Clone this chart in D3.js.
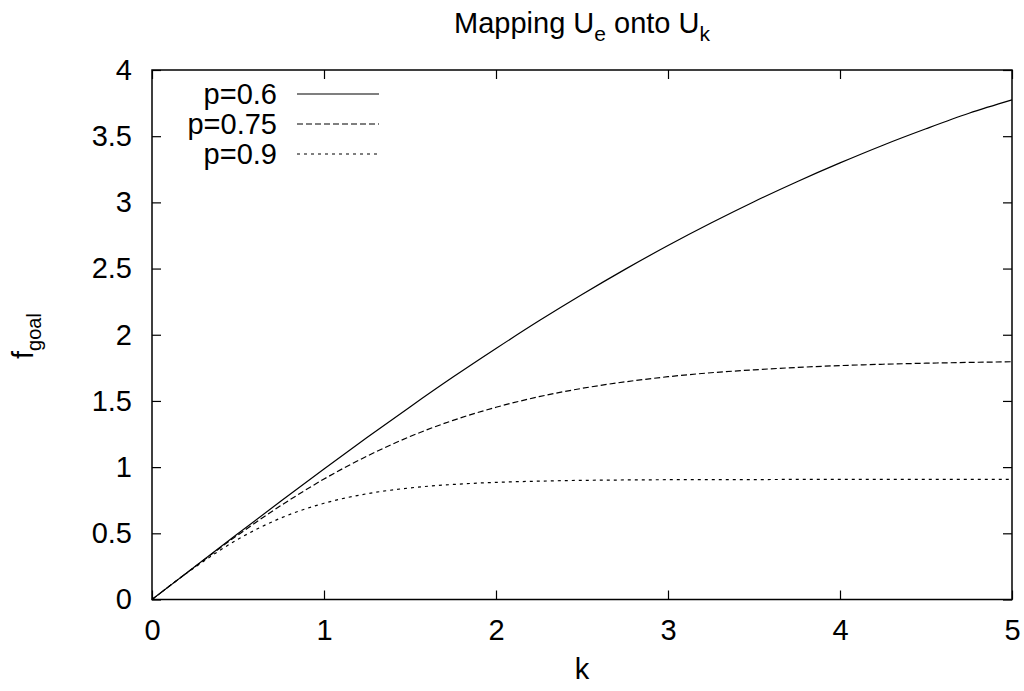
<!DOCTYPE html>
<html>
<head>
<meta charset="utf-8">
<script src="https://cdn.jsdelivr.net/npm/d3@7"></script>
<style>
  html, body { margin: 0; padding: 0; background: #fff; }
  svg { display: block; font-family: "Liberation Sans", Arial, Helvetica, sans-serif; }
</style>
</head>
<body>
<svg id="chart" width="1024" height="691"></svg>
<script>
// k values sampled along the x axis
const kValues = [0, 0.25, 0.5, 0.75, 1, 1.25, 1.5, 1.75, 2, 2.25, 2.5, 2.75, 3, 3.25, 3.5, 3.75, 4, 4.25, 4.5, 4.75, 5];

// f_goal for each p
const fP060 = [0, 0.250, 0.498, 0.744, 0.986, 1.224, 1.455, 1.680, 1.896, 2.105, 2.304, 2.494, 2.674, 2.844, 3.005, 3.156, 3.298, 3.432, 3.556, 3.673, 3.774];
const fP075 = [0, 0.248, 0.488, 0.710, 0.910, 1.083, 1.231, 1.353, 1.452, 1.532, 1.595, 1.644, 1.683, 1.713, 1.735, 1.753, 1.767, 1.777, 1.785, 1.791, 1.796];
const fP090 = [0, 0.244, 0.455, 0.616, 0.727, 0.799, 0.843, 0.869, 0.885, 0.894, 0.900, 0.903, 0.905, 0.906, 0.906, 0.907, 0.907, 0.907, 0.907, 0.907, 0.907];

const seriesNames = ["p=0.6", "p=0.75", "p=0.9"];
const xTicks = [0, 1, 2, 3, 4, 5];
const yTicks = [0, 0.5, 1, 1.5, 2, 2.5, 3, 3.5, 4];

const series = [
  { name: seriesNames[0], values: fP060, dash: null },
  { name: seriesNames[1], values: fP075, dash: "6,3" },
  { name: seriesNames[2], values: fP090, dash: "3,4" }
];

const svg = d3.select("#chart");
const plotLeft = 152, plotRight = 1012, plotTop = 70, plotBottom = 599.5;

const x = d3.scaleLinear().domain([0, 5]).range([plotLeft, plotRight]);
const y = d3.scaleLinear().domain([0, 4]).range([plotBottom, plotTop]);

const tickLen = 9;
const fontSize = 29;

// Axes with inward ticks on all four sides
const axisGroup = svg.append("g");
axisGroup.append("g")
  .attr("transform", `translate(0,${plotBottom})`)
  .call(d3.axisBottom(x).tickValues(xTicks).tickSize(-tickLen).tickPadding(20).tickFormat(d3.format("d")));
axisGroup.append("g")
  .attr("transform", `translate(0,${plotTop})`)
  .call(d3.axisTop(x).tickValues(xTicks).tickSize(-tickLen).tickFormat(""));
axisGroup.append("g")
  .attr("transform", `translate(${plotLeft},0)`)
  .call(d3.axisLeft(y).tickValues(yTicks).tickSize(-tickLen).tickPadding(20).tickFormat(d => String(d)));
axisGroup.append("g")
  .attr("transform", `translate(${plotRight},0)`)
  .call(d3.axisRight(y).tickValues(yTicks).tickSize(-tickLen).tickFormat(""));

axisGroup.selectAll(".domain").remove();
axisGroup.selectAll(".tick line").attr("stroke", "#000").attr("stroke-width", 1.2);
axisGroup.selectAll(".tick text")
  .attr("font-size", fontSize)
  .attr("font-family", "'Liberation Sans', Arial, sans-serif")
  .attr("fill", "#000");

// Plot frame
svg.append("rect")
  .attr("x", plotLeft).attr("y", plotTop)
  .attr("width", plotRight - plotLeft).attr("height", plotBottom - plotTop)
  .attr("fill", "none").attr("stroke", "#000").attr("stroke-width", 1.5);

// Curves
const line = d3.line()
  .x((d, i) => x(kValues[i]))
  .y(d => y(d))
  .curve(d3.curveMonotoneX);

svg.append("g").selectAll("path")
  .data(series)
  .join("path")
  .attr("d", s => line(s.values))
  .attr("fill", "none")
  .attr("stroke", "#000")
  .attr("stroke-width", 1.2)
  .attr("stroke-dasharray", s => s.dash);

// Legend
const legend = svg.append("g");
series.forEach((s, i) => {
  const ly = 94 + i * 30;
  legend.append("text")
    .attr("x", 277).attr("y", ly)
    .attr("dy", "0.35em")
    .attr("text-anchor", "end")
    .attr("font-size", fontSize)
    .text(s.name);
  legend.append("line")
    .attr("x1", 297).attr("x2", 379)
    .attr("y1", ly).attr("y2", ly)
    .attr("stroke", "#000").attr("stroke-width", 1.2)
    .attr("stroke-dasharray", s.dash);
});

// Title
const title = svg.append("text")
  .attr("x", (plotLeft + plotRight) / 2).attr("y", 33)
  .attr("text-anchor", "middle")
  .attr("font-size", 29);
title.append("tspan").text("Mapping U");
title.append("tspan").attr("font-size", 21).attr("dy", 8).text("e");
title.append("tspan").attr("dy", -8).text(" onto U");
title.append("tspan").attr("font-size", 21).attr("dy", 8).text("k");

// Axis labels
svg.append("text")
  .attr("x", (plotLeft + plotRight) / 2).attr("y", 679)
  .attr("text-anchor", "middle")
  .attr("font-size", fontSize)
  .text("k");

const yLabel = svg.append("text")
  .attr("transform", "translate(33,336) rotate(-90)")
  .attr("text-anchor", "middle")
  .attr("font-size", fontSize);
yLabel.append("tspan").text("f");
yLabel.append("tspan").attr("font-size", 20).attr("dy", 8).text("goal");
</script>
</body>
</html>
